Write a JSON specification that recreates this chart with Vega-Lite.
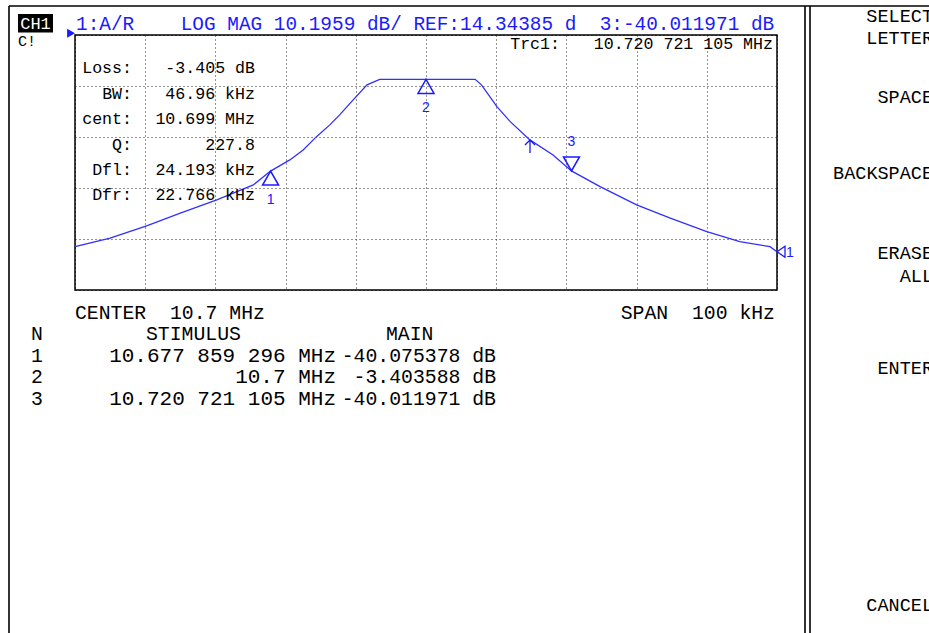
{
  "$schema": "https://vega.github.io/schema/vega-lite/v6.json",
  "width": 702,
  "height": 255,
  "autosize": {"type": "none"},
  "padding": {"left": 75, "top": 35, "right": 152, "bottom": 343},
  "background": "#ffffff",
  "config": {
    "view": {"stroke": "#000000", "strokeWidth": 1.5},
    "axis": {"grid": true, "gridColor": "#000000", "gridDash": [1, 3], "gridWidth": 1, "gridOpacity": 0.85, "labels": false, "ticks": false, "domain": false, "titleOpacity": 0}
  },
  "datasets": {
    "trace": [
      {"f": 10.6500, "db": -70.3}, {"f": 10.6550, "db": -66.9}, {"f": 10.6602, "db": -62.0},
      {"f": 10.6650, "db": -56.9}, {"f": 10.6702, "db": -51.6}, {"f": 10.6754, "db": -45.6},
      {"f": 10.67786, "db": -40.08}, {"f": 10.6806, "db": -35.6}, {"f": 10.6825, "db": -31.6},
      {"f": 10.6844, "db": -26.3}, {"f": 10.6863, "db": -21.6}, {"f": 10.6877, "db": -17.6},
      {"f": 10.6894, "db": -12.3}, {"f": 10.6916, "db": -5.6}, {"f": 10.6934, "db": -3.40},
      {"f": 10.7070, "db": -3.40}, {"f": 10.7079, "db": -5.6}, {"f": 10.7101, "db": -14.3},
      {"f": 10.7120, "db": -20.3}, {"f": 10.7148, "db": -27.6}, {"f": 10.7181, "db": -33.6},
      {"f": 10.72072, "db": -40.01}, {"f": 10.7248, "db": -46.3}, {"f": 10.7300, "db": -53.6},
      {"f": 10.7348, "db": -58.9}, {"f": 10.7400, "db": -64.3}, {"f": 10.7447, "db": -68.3},
      {"f": 10.7490, "db": -70.3}, {"f": 10.7500, "db": -72.3}
    ],
    "markers": [
      {"id": "1", "f": 10.677859296, "db": -40.075378, "dir": "up"},
      {"id": "2", "f": 10.7, "db": -3.403588, "dir": "up"},
      {"id": "3", "f": 10.720721105, "db": -40.011971, "dir": "down"}
    ],
    "frame": [
      {"f": 10.640598, "f2": 10.78, "db": 25.939, "db2": 25.939},
      {"f": 10.640598, "f2": 10.640598, "db": 25.939, "db2": -232},
      {"f": 10.753989, "f2": 10.753989, "db": 25.939, "db2": -232},
      {"f": 10.754701, "f2": 10.754701, "db": 25.939, "db2": -232}
    ],
    "readout": [
      {"label": "Loss:", "value": "-3.405\u00a0dB", "db": 1.149},
      {"label": "BW:", "value": "46.96\u00a0kHz", "db": -9.047},
      {"label": "cent:", "value": "10.699\u00a0MHz", "db": -19.243},
      {"label": "Q:", "value": "227.8\u00a0\u00a0\u00a0", "db": -29.439},
      {"label": "Dfl:", "value": "24.193\u00a0kHz", "db": -39.634},
      {"label": "Dfr:", "value": "22.766\u00a0kHz", "db": -49.830}
    ],
    "trc": [{"label": "Trc1:", "value": "10.720\u00a0721\u00a0105\u00a0MHz", "db": 10.745}],
    "title": [{"text": "1:A/R\u00a0\u00a0\u00a0\u00a0LOG\u00a0MAG\u00a010.1959\u00a0dB/\u00a0REF:14.34385\u00a0d\u00a0\u00a03:-40.011971\u00a0dB"}],
    "lowerLeft": [
      {"text": "CENTER\u00a0\u00a010.7\u00a0MHz", "f": 10.65, "db": -96.69},
      {"text": "N", "f": 10.643732, "db": -105.21},
      {"text": "STIMULUS", "f": 10.660114, "db": -105.21},
      {"text": "MAIN", "f": 10.694302, "db": -105.21},
      {"text": "1", "f": 10.643732, "db": -114.00},
      {"text": "2", "f": 10.643732, "db": -122.60},
      {"text": "3", "f": 10.643732, "db": -131.20}
    ],
    "lowerRight": [
      {"text": "SPAN\u00a0\u00a0100\u00a0kHz", "f": 10.749715, "db": -96.69},
      {"text": "-40.075378\u00a0dB", "f": 10.709972, "db": -114.00},
      {"text": "-3.403588\u00a0dB", "f": 10.709972, "db": -122.60},
      {"text": "-40.011971\u00a0dB", "f": 10.709972, "db": -131.20}
    ],
    "stimulus": [
      {"text": "10.677\u00a0859\u00a0296\u00a0MHz", "db": -114.00},
      {"text": "10.7\u00a0MHz", "db": -122.60},
      {"text": "10.720\u00a0721\u00a0105\u00a0MHz", "db": -131.20}
    ],
    "softkeys": [
      {"text": "SELECT", "db": 22.14}, {"text": "LETTER", "db": 13.14},
      {"text": "SPACE", "db": -10.45}, {"text": "BACKSPACE", "db": -40.83},
      {"text": "ERASE", "db": -72.82}, {"text": "ALL", "db": -82.01},
      {"text": "ENTER", "db": -118.88}, {"text": "CANCEL", "db": -213.56}
    ]
  },
  "layer": [
    {
      "data": {"name": "trace"},
      "mark": {"type": "line", "color": "#3030ff", "strokeWidth": 1.3, "interpolate": "linear"},
      "encoding": {
        "x": {"field": "f", "type": "quantitative", "title": null,
              "scale": {"domain": [10.65, 10.75], "nice": false, "zero": false},
              "axis": {"values": [10.65, 10.66, 10.67, 10.68, 10.69, 10.7, 10.71, 10.72, 10.73, 10.74, 10.75]}},
        "y": {"field": "db", "type": "quantitative", "title": null,
              "scale": {"domain": [-87.61515, 14.34385], "nice": false, "zero": false},
              "axis": {"values": [14.34385, 4.14795, -6.04795, -16.24385, -26.43975, -36.63565, -46.83155, -57.02745, -67.22335, -77.41925, -87.61515]}}
      }
    },
    {
      "data": {"name": "frame"},
      "mark": {"type": "rule", "color": "#000000", "strokeWidth": 1.6},
      "encoding": {
        "x": {"field": "f", "type": "quantitative"},
        "x2": {"field": "f2"},
        "y": {"field": "db", "type": "quantitative"},
        "y2": {"field": "db2"}
      }
    },
    {
      "data": {"values": [{"label": "CH1"}]},
      "mark": {"type": "rect", "color": "#000000"},
      "encoding": {
        "x": {"datum": 10.64188}, "x2": {"datum": 10.646866},
        "y": {"datum": 22.74}, "y2": {"datum": 15.34}
      }
    },
    {
      "data": {"values": [{"label": "CH1"}]},
      "mark": {"type": "text", "color": "#ffffff", "font": "Liberation Mono", "fontSize": 17, "align": "center", "baseline": "middle"},
      "encoding": {"x": {"datum": 10.644373}, "y": {"datum": 18.94}, "text": {"field": "label"}}
    },
    {
      "data": {"values": [{"label": "C!"}]},
      "mark": {"type": "text", "color": "#000000", "font": "Liberation Mono", "fontSize": 15, "align": "left", "baseline": "middle"},
      "encoding": {"x": {"datum": 10.64188}, "y": {"datum": 12.14}, "text": {"field": "label"}}
    },
    {
      "data": {"name": "title"},
      "mark": {"type": "text", "color": "#1a1aff", "font": "Liberation Mono", "fontSize": 19.4, "align": "left", "baseline": "middle"},
      "encoding": {"x": {"datum": 10.650142}, "y": {"datum": 18.742}, "text": {"field": "text"}}
    },
    {
      "data": {"values": [{"ref": 14.34385}]},
      "mark": {"type": "point", "shape": "M0,-0.4L-1.75,-1.4L-1.75,0.6Z", "size": 81, "filled": true, "color": "#1a1aff", "opacity": 1},
      "encoding": {"x": {"datum": 10.65}, "y": {"field": "ref", "type": "quantitative"}}
    },
    {
      "data": {"name": "readout"},
      "mark": {"type": "text", "color": "#000000", "font": "Liberation Mono", "fontSize": 16.6, "align": "right", "baseline": "middle"},
      "encoding": {"x": {"datum": 10.65812}, "y": {"field": "db", "type": "quantitative"}, "text": {"field": "label"}}
    },
    {
      "data": {"name": "readout"},
      "mark": {"type": "text", "color": "#000000", "font": "Liberation Mono", "fontSize": 16.6, "align": "right", "baseline": "middle"},
      "encoding": {"x": {"datum": 10.675641}, "y": {"field": "db", "type": "quantitative"}, "text": {"field": "value"}}
    },
    {
      "data": {"name": "trc"},
      "mark": {"type": "text", "color": "#000000", "font": "Liberation Mono", "fontSize": 16.6, "align": "right", "baseline": "middle"},
      "encoding": {"x": {"datum": 10.719088}, "y": {"field": "db", "type": "quantitative"}, "text": {"field": "label"}}
    },
    {
      "data": {"name": "trc"},
      "mark": {"type": "text", "color": "#000000", "font": "Liberation Mono", "fontSize": 16.6, "align": "right", "baseline": "middle"},
      "encoding": {"x": {"datum": 10.74943}, "y": {"field": "db", "type": "quantitative"}, "text": {"field": "value"}}
    },
    {
      "data": {"name": "markers"},
      "mark": {"type": "point", "filled": false, "color": "#1a1aff", "strokeWidth": 1.5, "size": 256, "opacity": 1},
      "encoding": {
        "x": {"field": "f", "type": "quantitative"},
        "y": {"field": "db", "type": "quantitative"},
        "shape": {"field": "dir", "type": "nominal", "legend": null,
                  "scale": {"domain": ["up", "down"], "range": ["M0,0L-1,1.75L1,1.75Z", "M0,0L-1,-1.75L1,-1.75Z"]}}
      }
    },
    {
      "data": {"name": "markers"},
      "transform": [{"filter": "datum.dir == 'up'"}],
      "mark": {"type": "text", "color": "#1a1aff", "font": "Liberation Sans", "fontSize": 14, "align": "center", "baseline": "middle", "dy": 29},
      "encoding": {"x": {"field": "f", "type": "quantitative"}, "y": {"field": "db", "type": "quantitative"}, "text": {"field": "id"}}
    },
    {
      "data": {"name": "markers"},
      "transform": [{"filter": "datum.dir == 'down'"}],
      "mark": {"type": "text", "color": "#1a1aff", "font": "Liberation Sans", "fontSize": 14, "align": "center", "baseline": "middle", "dy": -29},
      "encoding": {"x": {"field": "f", "type": "quantitative"}, "y": {"field": "db", "type": "quantitative"}, "text": {"field": "id"}}
    },
    {
      "data": {"values": [{"f": 10.75, "db": -72.3, "id": "1"}]},
      "mark": {"type": "point", "shape": "M0,0L1.6,-1.1L1.6,1.1Z", "size": 100, "filled": false, "color": "#1a1aff", "strokeWidth": 1.3, "opacity": 1},
      "encoding": {"x": {"field": "f", "type": "quantitative"}, "y": {"field": "db", "type": "quantitative"}}
    },
    {
      "data": {"values": [{"f": 10.75, "db": -72.3, "id": "1"}]},
      "mark": {"type": "text", "color": "#1a1aff", "font": "Liberation Sans", "fontSize": 14, "align": "center", "baseline": "middle", "dx": 13, "dy": 1},
      "encoding": {"x": {"field": "f", "type": "quantitative"}, "y": {"field": "db", "type": "quantitative"}, "text": {"field": "id"}}
    },
    {
      "data": {"values": [{"f": 10.714815, "db": -27.64}]},
      "mark": {"type": "point", "shape": "M0,0L0,2.6M-1,1L0,0L1,1", "size": 100, "filled": false, "color": "#1a1aff", "strokeWidth": 1.3, "opacity": 1},
      "encoding": {"x": {"field": "f", "type": "quantitative"}, "y": {"field": "db", "type": "quantitative"}}
    },
    {
      "data": {"name": "lowerLeft"},
      "mark": {"type": "text", "color": "#000000", "font": "Liberation Mono", "fontSize": 19.8, "align": "left", "baseline": "middle"},
      "encoding": {"x": {"field": "f", "type": "quantitative"}, "y": {"field": "db", "type": "quantitative"}, "text": {"field": "text"}}
    },
    {
      "data": {"name": "lowerRight"},
      "mark": {"type": "text", "color": "#000000", "font": "Liberation Mono", "fontSize": 19.8, "align": "right", "baseline": "middle"},
      "encoding": {"x": {"field": "f", "type": "quantitative"}, "y": {"field": "db", "type": "quantitative"}, "text": {"field": "text"}}
    },
    {
      "data": {"name": "stimulus"},
      "mark": {"type": "text", "color": "#000000", "font": "Liberation Mono", "fontSize": 21, "align": "right", "baseline": "middle"},
      "encoding": {"x": {"datum": 10.687179}, "y": {"field": "db", "type": "quantitative"}, "text": {"field": "text"}}
    },
    {
      "data": {"name": "softkeys"},
      "mark": {"type": "text", "color": "#000000", "font": "Liberation Mono", "fontSize": 18.5, "align": "right", "baseline": "middle"},
      "encoding": {"x": {"datum": 10.772222}, "y": {"field": "db", "type": "quantitative"}, "text": {"field": "text"}}
    }
  ]
}
